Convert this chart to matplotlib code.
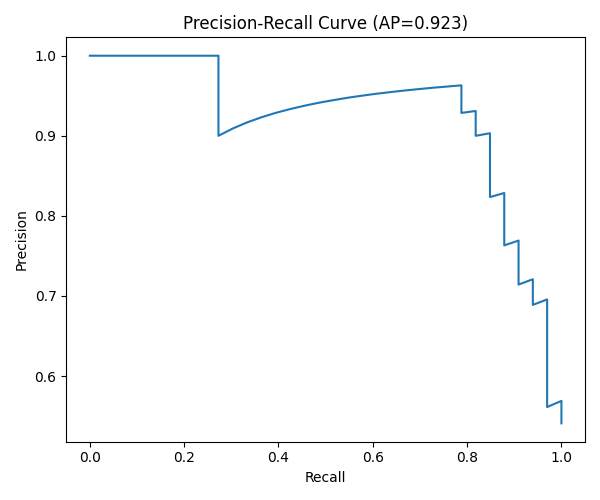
import matplotlib
matplotlib.use('Agg')
import matplotlib.pyplot as plt

# ------------------------------------------------------------
# PR curve points
# ------------------------------------------------------------
recall = [0.0, 0.2727, 0.2727, 0.3030, 0.3333, 0.3636, 0.3939, 0.4242,
          0.4545, 0.4848, 0.5152, 0.5455, 0.5758, 0.6061, 0.6364, 0.6667,
          0.6970, 0.7273, 0.7576, 0.7879, 0.7879, 0.8182, 0.8182, 0.8485,
          0.8485, 0.8788, 0.8788, 0.9091, 0.9091, 0.9394, 0.9394, 0.9697,
          0.9697, 1.0, 1.0]
precision = [1.0, 1.0, 0.9000, 0.9091, 0.9167, 0.9231, 0.9286, 0.9333,
             0.9375, 0.9412, 0.9444, 0.9474, 0.9500, 0.9524, 0.9545, 0.9565,
             0.9583, 0.9600, 0.9615, 0.9630, 0.9286, 0.9310, 0.9000, 0.9032,
             0.8235, 0.8286, 0.7632, 0.7692, 0.7143, 0.7209, 0.6889, 0.6957,
             0.5614, 0.5690, 0.5410]
ap = 0.923

fig, ax = plt.subplots(figsize=(6, 5), dpi=100)
ax.plot(recall, precision)
ax.set_title(f'Precision-Recall Curve (AP={ap:.3f})')
ax.set_xlabel('Recall')
ax.set_ylabel('Precision')

plt.tight_layout()
plt.savefig('out.png', dpi=100)
